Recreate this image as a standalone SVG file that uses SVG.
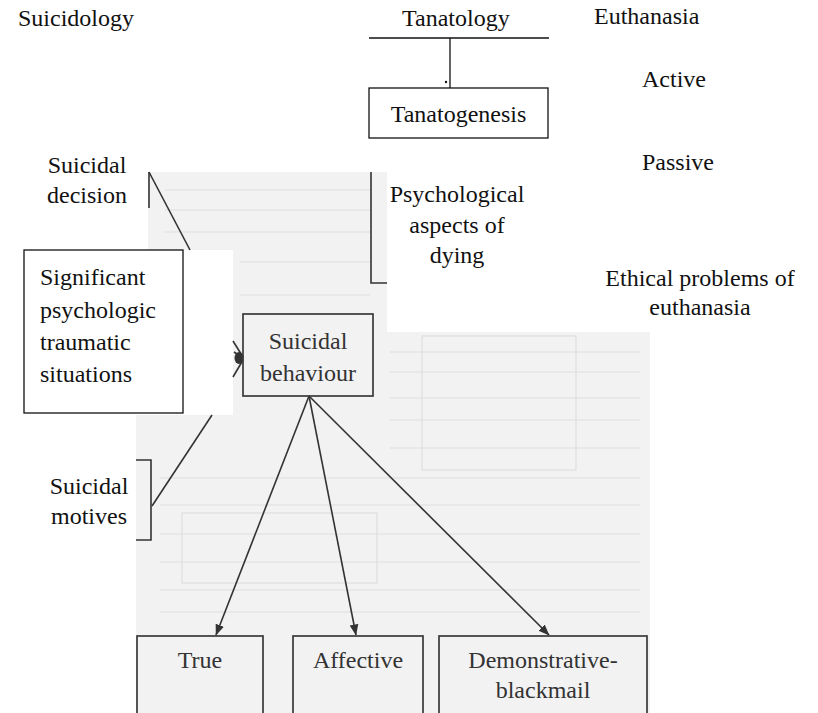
<svg xmlns="http://www.w3.org/2000/svg" width="818" height="713" viewBox="0 0 818 713">
  <style>
    .s { fill: #333; }
    .box { fill: none; stroke: #111; stroke-width: 1.3; }
    .sbox { fill: none; stroke: #3a3a3a; stroke-width: 1.7; }
    .ln { stroke: #111; stroke-width: 1.3; fill: none; }
    .sln { stroke: #333; stroke-width: 1.6; fill: none; }
    .tex { stroke: #dedede; stroke-width: 1.2; fill: none; }
  </style>
  <defs>
    <marker id="arr" viewBox="0 0 10 10" refX="9.5" refY="5" markerWidth="11" markerHeight="11" orient="auto" markerUnits="userSpaceOnUse">
      <path d="M0,1 L10,5 L0,9 z" fill="#333"/>
    </marker>
  </defs>

  <rect width="818" height="713" fill="#fff"/>

  <!-- pasted scan area -->
  <g id="scan">
    <path d="M148,172 H387 V332 H650 V713 H136 V415 H148 Z" fill="#f2f2f2"/>
    <g class="tex">
      <path d="M165,190 H370 M165,210 H370 M165,232 H370 M240,262 H370 M240,295 H370"/>
      <path d="M390,352 H640 M390,372 H640 M390,398 H640 M390,420 H640 M390,448 H640"/>
      <path d="M160,478 H640 M160,505 H640 M160,534 H640 M160,562 H640 M160,590 H640 M160,612 H640"/>
      <rect x="422" y="336" width="154" height="134"/>
      <rect x="182" y="513" width="195" height="70"/>
    </g>
    <!-- white patch under the situations box -->
    <rect x="24" y="250" width="209" height="165" fill="#fff"/>
  </g>

  <!-- connectors -->
  <g id="connectors">
    <line class="ln" x1="369" y1="38" x2="549" y2="38"/>
    <line class="ln" x1="450" y1="38" x2="450" y2="88"/>
    <circle cx="446" cy="82" r="1.2" fill="#111"/>
    <path class="sln" d="M149,172 V208"/>
    <path class="sln" d="M149,172 L190,250"/>
    <path class="sln" d="M371,172 V283 H387"/>
    <path class="sln" d="M136,460 H151 V540 H136"/>
    <path class="sln" d="M152,506 L212,415"/>
    <path class="sln" d="M233,341 L243,357 M233,377 L243,360 M234,352 L243,358"/>
    <ellipse cx="239" cy="358" rx="4.5" ry="6" fill="#333"/>
    <line class="sln" x1="309" y1="396" x2="216" y2="635" marker-end="url(#arr)"/>
    <line class="sln" x1="309" y1="396" x2="356" y2="635" marker-end="url(#arr)"/>
    <line class="sln" x1="309" y1="396" x2="549" y2="635" marker-end="url(#arr)"/>
  </g>

  <g font-family="Liberation Serif, Times New Roman, Times, serif" font-size="24" fill="#111">
    <g id="suicidology"><text x="18" y="26">Suicidology</text></g>
    <g id="tanatology"><text x="402" y="26">Tanatology</text></g>
    <g id="euthanasia"><text x="594" y="24">Euthanasia</text></g>
    <g id="active"><text x="642" y="87">Active</text></g>
    <g id="passive"><text x="642" y="170">Passive</text></g>

    <g id="tanatogenesis">
      <rect class="box" x="369" y="88" width="179" height="50"/>
      <text x="458.5" y="122" text-anchor="middle">Tanatogenesis</text>
    </g>

    <g id="suicidal-decision">
      <text x="87" y="173" text-anchor="middle">Suicidal</text>
      <text x="87" y="203" text-anchor="middle">decision</text>
    </g>

    <g id="psychological-aspects">
      <text x="457" y="202" text-anchor="middle">Psychological</text>
      <text x="457" y="233" text-anchor="middle">aspects of</text>
      <text x="457" y="263" text-anchor="middle">dying</text>
    </g>

    <g id="ethical-problems">
      <text x="700" y="286" text-anchor="middle">Ethical problems of</text>
      <text x="700" y="315" text-anchor="middle">euthanasia</text>
    </g>

    <g id="traumatic-situations">
      <rect class="box" x="24" y="250" width="159" height="163"/>
      <text x="40" y="285">Significant</text>
      <text x="40" y="318">psychologic</text>
      <text x="40" y="350">traumatic</text>
      <text x="40" y="382">situations</text>
    </g>

    <g id="suicidal-motives">
      <text x="89" y="494" text-anchor="middle">Suicidal</text>
      <text x="89" y="524" text-anchor="middle">motives</text>
    </g>

    <g id="suicidal-behaviour">
      <rect class="sbox" x="243" y="314" width="130" height="82"/>
      <text class="s" x="308" y="349" text-anchor="middle">Suicidal</text>
      <text class="s" x="308" y="381" text-anchor="middle">behaviour</text>
    </g>

    <g id="true">
      <rect class="sbox" x="137" y="636" width="126" height="90"/>
      <text class="s" x="200" y="668" text-anchor="middle">True</text>
    </g>

    <g id="affective">
      <rect class="sbox" x="293" y="636" width="130" height="90"/>
      <text class="s" x="358" y="668" text-anchor="middle">Affective</text>
    </g>

    <g id="demonstrative-blackmail">
      <rect class="sbox" x="439" y="636" width="208" height="90"/>
      <text class="s" x="543" y="668" text-anchor="middle">Demonstrative-</text>
      <text class="s" x="543" y="698" text-anchor="middle">blackmail</text>
    </g>
  </g>
</svg>
